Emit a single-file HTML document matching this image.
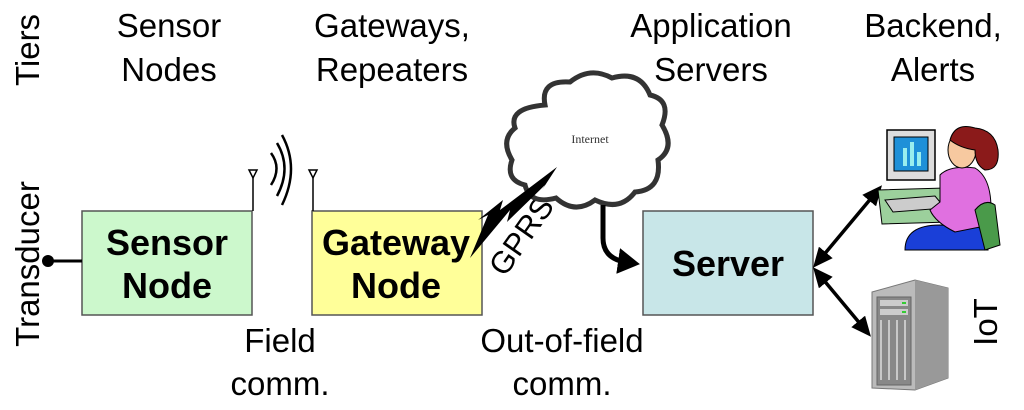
<!DOCTYPE html>
<html><head><meta charset="utf-8"><style>
html,body{margin:0;padding:0;background:#fff;}
svg{display:block;font-family:"Liberation Sans",Arial,sans-serif;}
</style></head><body>
<svg width="1024" height="410" viewBox="0 0 1024 410" xmlns="http://www.w3.org/2000/svg">
<defs>
<marker id="ah" markerWidth="22" markerHeight="26" refX="14" refY="13" orient="auto" markerUnits="userSpaceOnUse"><path d="M0,0 L22,13 L0,26 Z" fill="#000"/></marker>
<marker id="ah2" markerWidth="20" markerHeight="18" refX="6" refY="9" orient="auto-start-reverse" markerUnits="userSpaceOnUse"><path d="M0,0 L20,9 L0,18 Z" fill="#000"/></marker>
</defs>
<g font-size="33" text-anchor="middle" fill="#000">
<text x="169" y="37">Sensor</text><text x="169" y="81">Nodes</text>
<text x="392" y="37">Gateways,</text><text x="392" y="81">Repeaters</text>
<text x="711" y="37">Application</text><text x="711" y="81">Servers</text>
<text x="933" y="37">Backend,</text><text x="933" y="81">Alerts</text>
<text x="280" y="352">Field</text><text x="280" y="395">comm.</text>
<text x="562" y="352">Out-of-field</text><text x="562" y="395">comm.</text>
<text transform="translate(39,50) rotate(-90)">Tiers</text>
<text transform="translate(39,264) rotate(-90)">Transducer</text>
<text transform="translate(997,322) rotate(-90)">IoT</text>
<text transform="translate(530,242) rotate(-55)" font-size="31">GPRS</text>
</g>
<rect x="82" y="211" width="170" height="104" fill="#ccf8cc" stroke="#555" stroke-width="1.5"/>
<rect x="312" y="211" width="170" height="104" fill="#ffff99" stroke="#555" stroke-width="1.5"/>
<rect x="643" y="211" width="170" height="104" fill="#c8e6e8" stroke="#555" stroke-width="1.5"/>
<g font-size="36" font-weight="bold" text-anchor="middle">
<text x="167" y="255">Sensor</text><text x="167" y="298">Node</text>
<text x="396" y="255">Gateway</text><text x="396" y="298">Node</text>
<text x="728" y="276">Server</text>
</g>
<line x1="48" y1="261" x2="82" y2="261" stroke="#000" stroke-width="3"/>
<circle cx="48" cy="261" r="6" fill="#000"/>
<g stroke="#000" stroke-width="1.5" fill="#fff">
<line x1="253" y1="178" x2="253" y2="211"/><path d="M249,170 L257,170 L253,178 Z"/>
<line x1="313" y1="178" x2="313" y2="211"/><path d="M309,170 L317,170 L313,178 Z"/>
</g>
<g stroke="#000" stroke-width="2.5" fill="none">
<path d="M271,153 Q282,168 271,185"/>
<path d="M277,143 Q292,168 277,196"/>
<path d="M282,135 Q300,168 282,205"/>
</g>
<path d="M545,105 Q540,80 570,82 Q590,66 612,78 Q640,70 650,95 Q672,100 662,125 Q676,148 658,160 Q662,190 635,192 Q620,212 595,200 Q575,215 556,198 Q530,205 525,185 Q505,180 512,160 Q500,140 515,128 Q508,108 545,105 Z" fill="#fff" stroke="#333" stroke-width="5"/>
<text x="590" y="143" font-family="'Liberation Serif',serif" font-size="12" fill="#333" text-anchor="middle">Internet</text>
<path d="M557,167 L500,210 L503,200 L478,220 L488,215 L470,258 L510,210 L507,222 L545,185 L542,190 Z" fill="#000"/>
<path d="M603,205 L603,238 Q603,258 625,262 L632,263" fill="none" stroke="#000" stroke-width="5" marker-end="url(#ah)"/>
<line x1="822" y1="257" x2="873" y2="196" stroke="#000" stroke-width="3.5" marker-start="url(#ah2)" marker-end="url(#ah2)"/>
<line x1="822" y1="278" x2="862" y2="326" stroke="#000" stroke-width="3.5" marker-start="url(#ah2)" marker-end="url(#ah2)"/>
<path d="M878,190 L945,188 L950,222 L882,224 Z" fill="#9cd09c" stroke="#000"/>
<rect x="887" y="130" width="48" height="50" fill="#ddd" stroke="#000" stroke-width="1.5"/>
<rect x="894" y="137" width="34" height="34" fill="#1e90d8" stroke="#000"/>
<rect x="903" y="148" width="4" height="18" fill="#9ee"/><rect x="910" y="142" width="4" height="24" fill="#9ee"/><rect x="917" y="152" width="4" height="14" fill="#9ee"/>
<path d="M885,200 L935,196 L945,208 L893,212 Z" fill="#ccc" stroke="#000"/>
<path d="M905,250 Q905,225 940,225 L985,228 L988,250 Z" fill="#1a3fd8" stroke="#000"/>
<path d="M940,175 Q950,165 975,168 Q995,180 990,225 L955,232 Q935,222 930,210 L940,202 Z" fill="#e070e0" stroke="#000"/>
<path d="M975,210 Q985,198 995,205 L1000,245 L985,250 Z" fill="#4a9a4a" stroke="#000"/>
<ellipse cx="962" cy="150" rx="14" ry="18" fill="#f7c9a0" stroke="#000"/>
<path d="M950,140 Q955,122 975,128 Q995,130 998,150 Q1000,170 985,170 Q975,165 975,150 Q960,148 950,140 Z" fill="#8b1a1a" stroke="#000"/>
<path d="M872,292 L915,280 L948,288 L948,378 L915,390 L872,388 Z" fill="#bbb" stroke="#777"/>
<path d="M915,280 L948,288 L948,378 L915,390 Z" fill="#999"/>
<rect x="877" y="297" width="34" height="88" fill="#888" stroke="#666"/>
<g fill="#ccc"><rect x="880" y="300" width="28" height="6"/><rect x="880" y="309" width="28" height="6"/></g>
<g stroke="#ddd" stroke-width="1.5"><line x1="881" y1="320" x2="881" y2="380"/><line x1="889" y1="320" x2="889" y2="380"/><line x1="897" y1="320" x2="897" y2="380"/><line x1="905" y1="320" x2="905" y2="380"/></g>
<rect x="902" y="302" width="4" height="2" fill="#3c3"/><rect x="902" y="311" width="4" height="2" fill="#3c3"/>
</svg>
</body></html>
